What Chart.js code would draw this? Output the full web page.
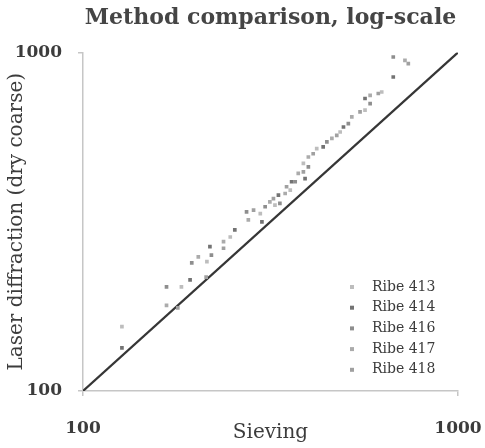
<!DOCTYPE html>
<html>
<head>
<meta charset="utf-8">
<script src="https://cdn.jsdelivr.net/npm/chart.js@4.4.1/dist/chart.umd.min.js"></script>
<style>
  html, body { margin: 0; padding: 0; background: #fff; }
</style>
</head>
<body>
<canvas id="methodChart" width="485" height="448"></canvas>
<script>
// sample names and colours (reference is greyscale)
const seriesNames = ['Ribe 413', 'Ribe 414', 'Ribe 416', 'Ribe 417', 'Ribe 418'];
const seriesColors = ['#bdbdbd', '#737373', '#8e8e8e', '#ababab', '#a0a0a0'];

// sieving (x) and laser diffraction (y) values per sample
const sieving413 = [127, 183, 214, 247, 297, 325, 357, 387, 420, 485, 565, 626];
const laser413   = [155, 203, 241, 285, 334, 354, 392, 470, 520, 582, 675, 764];
const sieving414 = [127, 193, 218, 254, 300, 332, 360, 391, 437, 495, 565, 672];
const laser414   = [134, 213, 267, 299, 316, 379, 415, 424, 526, 602, 731, 846];
const sieving416 = [167, 195, 220, 273, 306, 335, 368, 399, 447, 510, 583, 672];
const laser416   = [203, 239, 252, 338, 350, 358, 415, 459, 544, 616, 706, 969];
const sieving417 = [167, 203, 237, 276, 315, 346, 375, 399, 461, 521, 583, 722];
const laser417   = [179, 249, 276, 320, 362, 383, 439, 491, 557, 645, 747, 947];
const sieving418 = [179, 213, 237, 285, 322, 349, 387, 411, 475, 548, 613, 737];
const laser418   = [176, 217, 264, 342, 370, 401, 444, 502, 569, 667, 756, 926];

// 1:1 line and the axis ticks
const identityLine = [100, 1000];
const tickValues = [100, 1000];

const xs = [sieving413, sieving414, sieving416, sieving417, sieving418];
const ys = [laser413, laser414, laser416, laser417, laser418];

const serif = '"DejaVu Serif", "Liberation Serif", serif';
const textColor = '#3c3c3c';
const axisColor = '#c6c6c6';

const datasets = seriesNames.map((name, i) => ({
  type: 'scatter',
  label: name,
  data: xs[i].map((x, j) => ({ x: x, y: ys[i][j] })),
  pointStyle: 'rect',
  pointRadius: 2.6,
  pointHoverRadius: 2.6,
  borderWidth: 0,
  backgroundColor: seriesColors[i],
  borderColor: seriesColors[i]
}));

datasets.push({
  type: 'line',
  label: '1:1',
  data: identityLine.map(v => ({ x: v, y: v })),
  borderColor: '#363636',
  borderWidth: 2.2,
  pointRadius: 0,
  fill: false
});

// legend drawn inside the plot, lower right
const insideLegend = {
  id: 'insideLegend',
  afterDatasetsDraw(chart) {
    const { ctx, chartArea } = chart;
    ctx.save();
    ctx.font = '14px ' + serif;
    ctx.textBaseline = 'middle';
    ctx.textAlign = 'left';
    chart.data.datasets.forEach((ds, i) => {
      if (ds.type !== 'scatter') return;
      const y = chartArea.bottom - 104 + i * 20.7;
      ctx.fillStyle = ds.backgroundColor;
      ctx.fillRect(chartArea.right - 108, y - 2, 4, 4);
      ctx.fillStyle = textColor;
      ctx.fillText(ds.label, chartArea.right - 86, y);
    });
    ctx.restore();
  }
};

function axis(pos, titleText, extra) {
  return Object.assign({
    type: 'logarithmic',
    position: pos,
    min: 100,
    max: 1000,
    afterBuildTicks: s => { s.ticks = tickValues.map(v => ({ value: v })); },
    ticks: {
      autoSkip: false,
      maxRotation: 0,
      color: textColor,
      font: { family: serif, size: 17, weight: 'bold' },
      callback: v => String(v)
    },
    grid: { drawOnChartArea: false, drawTicks: true, tickLength: 5, color: axisColor, lineWidth: 1.5 },
    border: { color: axisColor, width: 1.5 },
    title: { display: true, text: titleText, color: textColor, font: { family: serif, size: 20 } }
  }, extra);
}

const scales = {
  x: axis('bottom', 'Sieving', {
    afterFit: s => { s.height = 57; s.paddingLeft = 0; s.paddingRight = 27; }
  }),
  y: axis('left', 'Laser diffraction (dry coarse)', {
    afterFit: s => { s.width = 83; s.paddingTop = 0; s.paddingBottom = 0; }
  })
};
scales.x.ticks.padding = 22;
scales.x.title.padding = { top: 0, bottom: 3 };
scales.y.ticks.padding = 16;
scales.y.title.padding = { top: 5, bottom: 0 };

new Chart(document.getElementById('methodChart'), {
  data: { datasets: datasets },
  options: {
    responsive: false,
    animation: false,
    layout: { padding: { left: 0, right: 0, top: 0, bottom: 0 } },
    scales: scales,
    plugins: {
      legend: { display: false },
      tooltip: { enabled: false },
      title: {
        display: true,
        fullSize: false,
        text: 'Method comparison, log-scale',
        color: '#454545',
        font: { family: serif, size: 22, weight: 'bold' },
        padding: { top: 5, bottom: 21 }
      }
    }
  },
  plugins: [insideLegend]
});
</script>
</body>
</html>
